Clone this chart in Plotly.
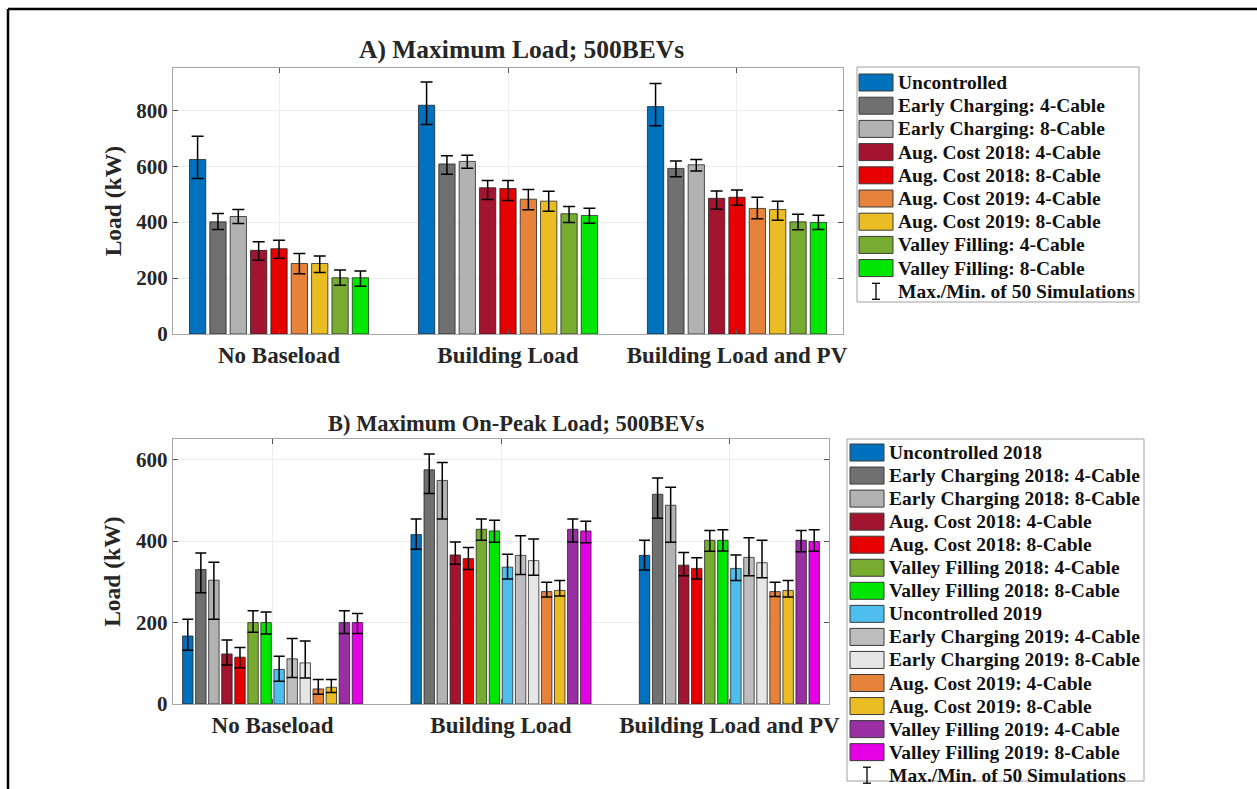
import plotly.graph_objects as go

W, H = 1257, 789

# ---------------- data ----------------
categories = ["No Baseload", "Building Load", "Building Load and PV"]

# Panel A: maximum load (kW) with max/min over 50 simulations
a_names = [
    "Uncontrolled",
    "Early Charging: 4-Cable",
    "Early Charging: 8-Cable",
    "Aug. Cost 2018: 4-Cable",
    "Aug. Cost 2018: 8-Cable",
    "Aug. Cost 2019: 4-Cable",
    "Aug. Cost 2019: 8-Cable",
    "Valley Filling: 4-Cable",
    "Valley Filling: 8-Cable",
]
a_mean = [
    [624, 818, 813],
    [401, 608, 592],
    [420, 617, 605],
    [299, 523, 485],
    [305, 520, 489],
    [252, 482, 449],
    [252, 475, 445],
    [201, 430, 401],
    [201, 424, 399],
]
a_max = [
    [707, 901, 896],
    [431, 637, 619],
    [445, 639, 624],
    [330, 549, 511],
    [335, 549, 515],
    [288, 517, 489],
    [279, 510, 475],
    [229, 456, 428],
    [225, 450, 425],
]
a_min = [
    [556, 749, 745],
    [374, 571, 562],
    [395, 593, 583],
    [264, 481, 446],
    [271, 477, 460],
    [215, 444, 412],
    [220, 439, 407],
    [174, 399, 373],
    [171, 396, 374],
]

# Panel B: maximum on-peak load (kW)
b_names = [
    "Uncontrolled 2018",
    "Early Charging 2018: 4-Cable",
    "Early Charging 2018: 8-Cable",
    "Aug. Cost 2018: 4-Cable",
    "Aug. Cost 2018: 8-Cable",
    "Valley Filling 2018: 4-Cable",
    "Valley Filling 2018: 8-Cable",
    "Uncontrolled 2019",
    "Early Charging 2019: 4-Cable",
    "Early Charging 2019: 8-Cable",
    "Aug. Cost 2019: 4-Cable",
    "Aug. Cost 2019: 8-Cable",
    "Valley Filling 2019: 4-Cable",
    "Valley Filling 2019: 8-Cable",
]
b_mean = [
    [167, 416, 365],
    [330, 575, 515],
    [304, 549, 488],
    [123, 366, 341],
    [115, 357, 333],
    [200, 429, 402],
    [200, 425, 402],
    [85, 336, 333],
    [111, 365, 360],
    [101, 352, 347],
    [37, 276, 276],
    [41, 279, 279],
    [200, 429, 402],
    [200, 425, 399],
]
b_max = [
    [208, 454, 402],
    [371, 614, 555],
    [348, 593, 532],
    [157, 398, 372],
    [139, 384, 359],
    [229, 454, 426],
    [226, 451, 428],
    [117, 368, 366],
    [161, 413, 408],
    [155, 405, 402],
    [60, 299, 299],
    [60, 303, 303],
    [229, 454, 426],
    [222, 449, 428],
]
b_min = [
    [132, 380, 329],
    [273, 517, 456],
    [208, 454, 397],
    [96, 343, 315],
    [89, 330, 307],
    [176, 402, 375],
    [172, 397, 376],
    [56, 307, 303],
    [65, 318, 315],
    [64, 316, 310],
    [24, 263, 264],
    [28, 265, 263],
    [173, 398, 374],
    [173, 396, 375],
]

errbar_label = "Max./Min. of 50 Simulations"

# ---------------- styling ----------------
a_colors = ["#0072BD", "#707070", "#B2B2B2", "#A2142F", "#E60000",
            "#E6823A", "#EBBD24", "#77AC30", "#00E600"]
b_colors = ["#0072BD", "#707070", "#B2B2B2", "#A2142F", "#E60000",
            "#77AC30", "#00E600", "#4DBEEE", "#BEBEBE", "#E6E6E6",
            "#E6823A", "#EBBD24", "#9A2EA3", "#E600E6"]

SERIF = "Liberation Serif"
TXT = "#262626"


def px(x):
    return x / W


def py(y):
    return 1 - y / H


fig = go.Figure()


def add_panel(names, mean, vmax, vmin, colors, xa, ya, cap):
    for n, m, hi, lo, c in zip(names, mean, vmax, vmin, colors):
        fig.add_trace(go.Bar(
            x=[1, 2, 3], y=m, name=n, xaxis=xa, yaxis=ya,
            marker=dict(color=c, line=dict(color="rgba(30,30,30,0.75)", width=1)),
            error_y=dict(type="data", symmetric=False,
                         array=[h - v for h, v in zip(hi, m)],
                         arrayminus=[v - l for v, l in zip(m, lo)],
                         color="black", thickness=1.5, width=cap),
            showlegend=False,
        ))


add_panel(a_names, a_mean, a_max, a_min, a_colors, "x", "y", 6)
add_panel(b_names, b_mean, b_max, b_min, b_colors, "x2", "y2", 5.5)

axis_common = dict(
    automargin=False,
    showline=True, linecolor="#A6A6A6", linewidth=1, mirror="ticks",
    ticks="inside", ticklen=5, tickcolor="#555555",
    showgrid=True, gridcolor="#EDEDED", gridwidth=1, zeroline=False,
)
xfont = dict(family=SERIF, size=23, color=TXT, weight="bold")
yfont = dict(family=SERIF, size=21, color=TXT, weight="bold")
ytitle_font = dict(family=SERIF, size=23.5, color=TXT, weight="bold")

fig.update_layout(
    template="none",
    autosize=False,
    width=W, height=H,
    margin=dict(l=0, r=0, t=0, b=0, pad=0, autoexpand=False),
    paper_bgcolor="white", plot_bgcolor="white",
    barmode="group", bargap=0.2, bargroupgap=0.2,
    showlegend=False,
    xaxis=dict(domain=[px(173), px(843)], anchor="y", range=[0.537, 3.463],
               tickvals=[1, 2, 3], ticktext=categories, tickfont=xfont, **axis_common),
    yaxis=dict(domain=[py(334), py(68.3)], anchor="x", range=[0, 950],
               tickvals=[0, 200, 400, 600, 800], tickfont=yfont,
               title=dict(text="Load (kW)", font=ytitle_font, standoff=8),
               **axis_common),
    xaxis2=dict(domain=[px(172.7), px(829.3)], anchor="y2", range=[0.5625, 3.4375],
                tickvals=[1, 2, 3], ticktext=categories, tickfont=xfont, **axis_common),
    yaxis2=dict(domain=[py(704), py(439.3)], anchor="x2", range=[0, 650],
                tickvals=[0, 200, 400, 600], tickfont=yfont,
                title=dict(text="Load (kW)", font=ytitle_font, standoff=8),
                **axis_common),
)

annotations = []
shapes = []

# panel titles
for text, cx, cy, fs in [("A) Maximum Load; 500BEVs", 521, 49, 25.5),
                         ("B) Maximum On-Peak Load; 500BEVs", 516, 423, 22.5)]:
    annotations.append(dict(
        text=text, x=px(cx), y=py(cy), xref="paper", yref="paper",
        xanchor="center", yanchor="middle", showarrow=False,
        font=dict(family=SERIF, size=fs, color=TXT, weight="bold"),
    ))

# outer frame
shapes.append(dict(type="line", xref="paper", yref="paper",
                   x0=px(8), x1=1, y0=py(9), y1=py(9),
                   line=dict(color="black", width=2.5)))
shapes.append(dict(type="line", xref="paper", yref="paper",
                   x0=px(8), x1=px(8), y0=py(9), y1=0,
                   line=dict(color="black", width=2.5)))


def draw_legend(names, colors, box, sw_x, row0, step, txt_x):
    x0, y0, x1, y1 = box
    shapes.append(dict(type="rect", xref="paper", yref="paper",
                       x0=px(x0), x1=px(x1), y0=py(y1), y1=py(y0),
                       line=dict(color="#A0A0A0", width=1), fillcolor="white"))
    for i, (n, c) in enumerate(zip(names, colors)):
        cy = row0 + i * step
        shapes.append(dict(type="rect", xref="paper", yref="paper",
                           x0=px(sw_x), x1=px(sw_x + 34), y0=py(cy + 8.5), y1=py(cy - 8.5),
                           line=dict(color="#3A3A3A", width=1), fillcolor=c))
        annotations.append(dict(text=n, x=px(txt_x), y=py(cy), xref="paper", yref="paper",
                                xanchor="left", yanchor="middle", showarrow=False,
                                font=dict(family=SERIF, size=19.5, color="#111111", weight="bold")))
    # error-bar key
    cy = row0 + len(names) * step
    gx = sw_x + 17
    for seg in [(gx, cy - 8, gx, cy + 8), (gx - 4, cy - 8, gx + 4, cy - 8), (gx - 4, cy + 8, gx + 4, cy + 8)]:
        shapes.append(dict(type="line", xref="paper", yref="paper",
                           x0=px(seg[0]), x1=px(seg[2]), y0=py(seg[1]), y1=py(seg[3]),
                           line=dict(color="black", width=1.3)))
    annotations.append(dict(text=errbar_label, x=px(txt_x), y=py(cy), xref="paper", yref="paper",
                            xanchor="left", yanchor="middle", showarrow=False,
                            font=dict(family=SERIF, size=19.5, color="#111111", weight="bold")))


draw_legend(a_names, a_colors, (857, 67, 1139, 302), 859, 82.5, 23.2, 896)
draw_legend(b_names, b_colors, (847, 439, 1144, 781), 850, 452.5, 23.05, 887)

fig.update_layout(annotations=annotations, shapes=shapes)

fig.write_html("out.html", config={"displayModeBar": False})
